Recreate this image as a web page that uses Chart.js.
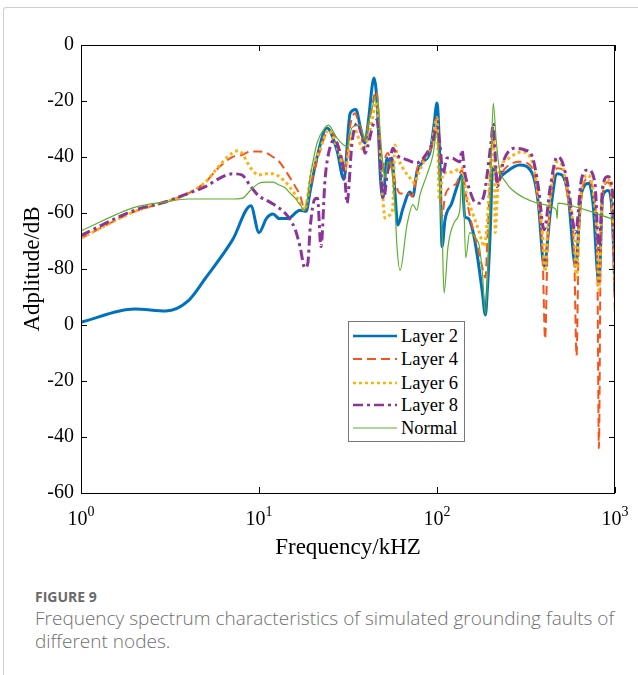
<!DOCTYPE html>
<html>
<head>
<meta charset="utf-8">
<script src="https://cdn.jsdelivr.net/npm/chart.js@4.4.1/dist/chart.umd.min.js"></script>
<style>
  body { margin: 0; background: #fff; width: 638px; height: 675px; position: relative; overflow: hidden; }
  #frame { position: absolute; left: 3px; top: 7px; right: -5px; bottom: -5px;
           border-top: 1px solid #d0d0d0; border-left: 1px solid #d0d0d0; border-top-left-radius: 3px; }
  #wrap { position: absolute; left: 0; top: 0; width: 638px; height: 575px; }
  #legend { position: absolute; left: 348px; top: 321px; width: 115px; height: 119px;
            border: 1px solid #777; background: #fff; font-family: "Liberation Serif", serif;
            font-size: 18.5px; color: #000; }
  #legend .row { position: absolute; left: 0; height: 22px; line-height: 22px; width: 115px; }
  #legend svg { position: absolute; left: 4px; top: 8px; }
  #legend span { position: absolute; left: 52px; top: 0; white-space: nowrap; }
  #caption { position: absolute; left: 35px; top: 587px; width: 610px; font-family: "Open Sans", sans-serif; color: #707070; white-space: nowrap; }
  #caption .fig { font-size: 14px; font-weight: bold; color: #6a6a6a; line-height: 20px; }
  #caption .txt { font-size: 19px; font-weight: 300; line-height: 23px; }
</style>
</head>
<body>
<div id="frame"></div>
<div id="wrap"><canvas id="spectrum" width="638" height="575"></canvas></div>
<div id="legend"></div>
<div id="caption">
  <div class="fig">FIGURE 9</div>
  <div class="txt">Frequency spectrum characteristics of simulated grounding faults of<br>different nodes.</div>
</div>
<script>
// tick values
const xTicks = [1, 10, 100, 1000];
const yTicks = [0, -20, -40, -60, -80, -100, -120, -140, -160];

// Layer 2
const freqL2 = [1, 2, 3, 4, 5, 7.1, 9, 10, 11, 12, 13, 14.5, 17, 18.4, 19.4, 21.2, 24.1, 27.4, 30, 32.5,
  35, 37, 39.4, 41, 44.3, 46.5, 48, 49.7, 52.4, 53.7, 55.8, 58, 60.2, 64.4, 70.5, 73.2, 77.1, 83.3, 91.4, 96.2,
  100, 104, 106.8, 110.9, 121, 129, 137.8, 143.3, 148.8, 158.5, 168.9, 180, 187, 191.8, 199.3, 204.4, 209.6, 217.7, 237.8, 291,
  343.8, 370.8, 400, 432.8, 473, 505, 546, 600, 648, 714, 752, 812, 853, 912, 961, 1000];
const dbL2 = [-99, -94.3, -95, -91.4, -83.3, -69.6, -57.4, -67, -62, -60.4, -62, -62, -59, -59.4, -52, -40, -29.6, -37.5, -48, -24.4,
  -23, -29, -35, -28, -11.8, -25, -46.4, -54.7, -40.4, -43, -40.4, -52.5, -64.3, -58.3, -52.5, -54, -45.4, -41.8, -38.2, -28.6,
  -20.7, -43, -72, -62.5, -56.5, -51, -46.4, -61.3, -61.8, -66, -75.7, -88.6, -96.4, -87.5, -66, -45.7, -43.6, -48, -46, -42.9,
  -46, -56.5, -79, -60, -46, -46.5, -54, -79, -53, -49.4, -56.5, -85, -54, -52, -59, -88];

// Layer 4
const freqL4 = [1, 2, 3, 4, 5, 6, 7.1, 8, 9, 10, 11, 12, 13, 14, 15, 16, 17, 18.1, 18.8, 20.1,
  21.5, 24.5, 26, 29.2, 30.4, 32.5, 34.6, 38.5, 42, 45.5, 46.5, 48.5, 51, 53, 55.8, 59.5, 62, 64.4, 68.7, 72.3,
  75.2, 77.1, 83.3, 93.7, 100, 104, 106.8, 110.9, 121, 129, 137.8, 146.9, 156.5, 166.8, 177.7, 187, 191.8, 199.3, 204.4, 212.3,
  217.7, 237.8, 292, 343.8, 370.8, 392, 405, 418, 432.8, 473, 511, 546, 590, 608, 625, 648, 705, 752, 795, 812,
  830, 853, 912, 961, 1000];
const dbL4 = [-69, -59.5, -56, -53, -49, -43.5, -40, -39.3, -38, -38, -38.5, -40, -41.7, -44.6, -47.6, -50.6, -53.6, -59, -54, -47,
  -40, -31, -31.5, -40, -44.6, -29, -24.4, -34, -25.7, -16.5, -20, -46, -40.4, -38.6, -44, -51, -53, -53, -53, -54,
  -50, -44.6, -41, -36.3, -26, -50.6, -61.3, -54, -50.6, -49.3, -44.6, -55.4, -63.7, -70.7, -78, -83, -69.6, -45.7, -31.4, -42,
  -49.3, -44.6, -41.7, -44, -56.5, -75, -105, -72, -56.5, -44, -44.6, -55.4, -75, -111, -70, -54, -47.7, -52, -75, -144,
  -75, -53, -49, -56.5, -97];

// Layer 6
const freqL6 = [1, 2, 3, 4, 5, 6, 7.1, 7.6, 8, 9, 10, 11, 12, 13, 14, 15, 16, 17, 18, 19.8,
  22, 24.5, 27.4, 30.4, 32.5, 34.6, 38.5, 42, 46, 47.9, 49.7, 51, 54.4, 56.4, 58, 60.2, 64.4, 70.5, 75.2, 78.1,
  87.8, 93.7, 100, 103, 108, 121, 137.8, 146.9, 158.5, 173, 184.6, 191.8, 201.8, 207, 210, 212.3, 217.7, 223.3, 247, 299,
  343.8, 370.8, 392, 405, 418, 432.8, 473, 511, 546, 590, 608, 625, 648, 705, 752, 795, 812, 830, 853, 912,
  961, 1000];
const dbL6 = [-69, -59.5, -56, -53, -49, -43, -38.5, -37.8, -38.6, -44, -46.4, -46, -46, -47, -48.8, -51, -53.6, -56.5, -59, -44.6,
  -37.5, -30.4, -36.3, -44.6, -35, -30.4, -37.5, -30.4, -20.4, -36.9, -54.7, -61.8, -60.7, -58.3, -35.7, -40, -44, -47.5, -49.3, -46.4,
  -39.3, -35, -26, -55, -46, -45.4, -44, -54, -60, -67, -72, -62.5, -40, -32.8, -45, -67, -55, -45.7, -41, -38.2,
  -42, -54, -68, -81, -66, -54, -41.7, -44, -54, -68, -83, -66, -52, -46.4, -52, -70, -87.5, -70, -52, -48,
  -54, -86];

// Layer 8
const freqL8 = [1, 2, 3, 4, 5, 6, 7.1, 8, 9, 10, 11, 12, 13, 14, 15, 16, 17, 18.1, 18.8, 19.4,
  20.6, 21.3, 22.3, 23.5, 25.1, 26.7, 28.5, 30.4, 31.2, 33.3, 35.5, 38, 39.4, 41, 43.7, 46, 47.9, 49.1, 50.3, 52.4,
  54.4, 56.4, 59.5, 67.8, 77.1, 87.8, 94.9, 100, 104, 108, 113.8, 121, 134.3, 138, 143.3, 152.6, 162.6, 173, 184.6, 191.8,
  201.8, 207, 215, 217.7, 237.8, 270, 311.6, 343.8, 370.8, 400, 432.8, 473, 505, 546, 600, 648, 705, 771, 812, 853,
  912, 973, 1000];
const dbL8 = [-68, -59, -56, -53, -50.6, -47.6, -46, -46.4, -50.6, -54, -55.4, -56.8, -58.3, -60, -62.5, -66, -72, -79.6, -78, -65,
  -55, -54.7, -72, -48, -36.3, -34, -38.7, -48, -56.5, -35, -28, -32.8, -38.7, -35.7, -28.6, -26.8, -39.3, -52.5, -54.7, -46.4,
  -41.8, -36.9, -39.3, -41, -42.1, -38.6, -34.6, -29.3, -36, -46, -40.4, -40.4, -41.7, -37.5, -45.7, -51.8, -56, -56.5, -53, -45.7,
  -34, -28, -45.7, -50.6, -41, -36.9, -37.5, -40, -50.6, -66, -50.6, -40, -41.7, -50.6, -67, -48, -44.6, -49.3, -73, -50.6,
  -47, -54, -81];

// Normal
const freqNormal = [1, 2, 3, 4, 5, 6, 7.1, 8, 9, 10, 11, 12, 13, 14, 15, 16, 17, 18.1, 19.4, 21.2,
  23.5, 24.5, 27.4, 31.2, 33.3, 36.9, 39.4, 42, 46, 47.9, 49.7, 51, 53, 55.8, 58, 59.5, 62, 67.8, 73.2, 77.1,
  80.2, 87.8, 94.9, 100, 104, 106.8, 109.6, 115.3, 125.8, 134.3, 137.8, 140.5, 145, 152.6, 162.6, 173, 180, 187, 196.8, 201.8,
  207, 215, 223.3, 243.9, 265, 366, 461, 469, 473, 478, 616, 1000];
const dbNormal = [-66.4, -58, -56, -55, -55, -55, -55, -54.8, -51.8, -49.4, -49, -49, -50, -51, -53, -54.8, -57, -59, -47, -35,
  -29.5, -28.6, -33.2, -36.3, -29.5, -28.6, -34, -25.7, -17.9, -31, -43, -47.5, -41.8, -45.4, -57, -71.4, -80.5, -64.3, -57, -59,
  -53.6, -46.4, -39.3, -31, -55, -66.8, -88.6, -72, -63, -59, -47, -50, -76, -67, -68.5, -72, -81.6, -96, -63.7, -40,
  -20.8, -34, -43.6, -49, -51.8, -56.5, -58.5, -59.5, -62, -56.5, -58, -62.5];

const seriesNames = ['Layer 2', 'Layer 4', 'Layer 6', 'Layer 8', 'Normal'];
const seriesFreq = [freqL2, freqL4, freqL6, freqL8, freqNormal];
const seriesDb = [dbL2, dbL4, dbL6, dbL8, dbNormal];

const styles = [
  { color: '#0072BD', width: 3, dash: [] },
  { color: '#F7541D', width: 2, dash: [9, 5] },
  { color: '#FFB10F', width: 3, dash: [3, 3] },
  { color: '#8B3598', width: 3, dash: [10, 4, 3, 4] },
  { color: '#5DAF2E', width: 1.2, dash: [] }
];

const serif = '"Liberation Serif", "Times New Roman", serif';

// y labels as printed on the original figure
function yLabel(v) {
  return String(v <= -100 ? v + 100 : v);
}

const boxAndTicks = {
  id: 'boxAndTicks',
  afterDraw(chart) {
    const { ctx, chartArea, scales } = chart;
    const { left, right, top, bottom } = chartArea;
    ctx.save();
    ctx.strokeStyle = '#000';
    ctx.lineWidth = 1;
    ctx.strokeRect(left + 0.5, top + 0.5, right - left - 1, bottom - top);
    ctx.beginPath();
    xTicks.forEach(v => {
      const px = Math.round(scales.x.getPixelForValue(v)) + 0.5;
      ctx.moveTo(px, bottom); ctx.lineTo(px, bottom - 6);
      ctx.moveTo(px, top); ctx.lineTo(px, top + 6);
    });
    yTicks.forEach(v => {
      const py = Math.round(scales.y.getPixelForValue(v)) + 0.5;
      ctx.moveTo(left, py); ctx.lineTo(left + 6, py);
      ctx.moveTo(right, py); ctx.lineTo(right - 6, py);
    });
    ctx.stroke();

    // x labels: 10 with superscript exponent
    ctx.fillStyle = '#000';
    ctx.textBaseline = 'alphabetic';
    ctx.textAlign = 'left';
    xTicks.forEach(v => {
      const px = scales.x.getPixelForValue(v);
      const e = String(Math.round(Math.log10(v)));
      ctx.font = '20px ' + serif;
      const w1 = ctx.measureText('10').width;
      ctx.font = '14px ' + serif;
      const w2 = ctx.measureText(e).width;
      const x0 = px - (w1 + w2) / 2;
      ctx.font = '20px ' + serif;
      ctx.fillText('10', x0, bottom + 32);
      ctx.font = '14px ' + serif;
      ctx.fillText(e, x0 + w1, bottom + 23);
    });
    ctx.restore();
  }
};

const ctx = document.getElementById('spectrum').getContext('2d');
const chart = new Chart(ctx, {
  type: 'line',
  data: {
    datasets: seriesNames.map((name, i) => ({
      label: name,
      data: seriesFreq[i].map((f, j) => ({ x: f, y: seriesDb[i][j] })),
      borderColor: styles[i].color,
      borderWidth: styles[i].width,
      borderDash: styles[i].dash,
      pointRadius: 0,
      fill: false,
      cubicInterpolationMode: 'monotone',
      order: 5 - i
    }))
  },
  options: {
    responsive: false,
    animation: false,
    layout: { padding: { top: 45, right: 23, left: 0, bottom: 0 } },
    plugins: { legend: { display: false }, tooltip: { enabled: false } },
    scales: {
      x: {
        type: 'logarithmic',
        min: 1,
        max: 1000,
        afterBuildTicks: s => { s.ticks = xTicks.map(v => ({ value: v })); },
        afterFit: s => { s.height = 82; },
        grid: { display: false, drawTicks: false },
        border: { display: false },
        ticks: { display: false },
        title: {
          display: true, text: 'Frequency/kHZ', color: '#000',
          font: { family: serif, size: 23 }, padding: { top: 0, bottom: 13 }
        }
      },
      y: {
        type: 'linear',
        min: -160,
        max: 0,
        afterBuildTicks: s => { s.ticks = yTicks.map(v => ({ value: v })); },
        afterFit: s => { s.width = 81; },
        grid: { display: false, drawTicks: false },
        border: { display: false },
        ticks: {
          color: '#000', padding: 7,
          font: { family: serif, size: 20 },
          callback: v => yLabel(v)
        },
        title: {
          display: true, text: 'Adplitude/dB', color: '#000',
          font: { family: serif, size: 23 }, padding: { top: 19, bottom: 0 }
        }
      }
    }
  },
  plugins: [boxAndTicks]
});

// legend box
const legend = document.getElementById('legend');
const rowTops = [3, 26, 50, 72, 95];
seriesNames.forEach((name, i) => {
  const st = styles[i];
  const row = document.createElement('div');
  row.className = 'row';
  row.style.top = rowTops[i] + 'px';
  row.innerHTML = '<svg width="44" height="6"><line x1="0" y1="3" x2="44" y2="3" stroke="' + st.color +
    '" stroke-width="' + Math.min(st.width, 2.5) + '" stroke-dasharray="' + (st.dash.length ? st.dash.join(',') : 'none') +
    '"/></svg><span>' + name + '</span>';
  legend.appendChild(row);
});
</script>
</body>
</html>
